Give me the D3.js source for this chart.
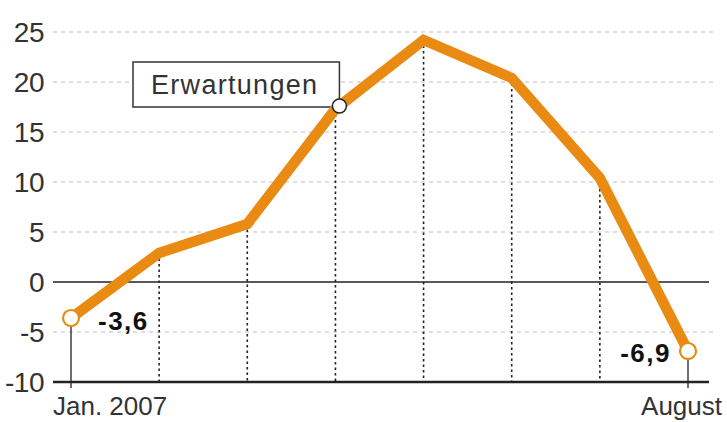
<!DOCTYPE html>
<html>
<head>
<meta charset="utf-8">
<script src="https://cdn.jsdelivr.net/npm/d3@7"></script>
<style>
  body { margin: 0; background: #fff; }
  svg { display: block; }
</style>
</head>
<body>
<div id="chart"></div>
<script>
// data
const months = ["Jan. 2007", "Feb", "Mär", "Apr", "Mai", "Jun", "Jul", "August"];
const values = [-3.6, 2.9, 5.8, 17.3, 24.2, 20.4, 10.4, -6.9];
const yTicks = [25, 20, 15, 10, 5, 0, -5, -10];
const shownLabels = ["Jan. 2007", "August"];
const noteIndex = 3;
const noteText = "Erwartungen";

const width = 727;
const height = 422;
const fontFamily = `"Liberation Sans", Arial, sans-serif`;
const orange = `#e98a12`;

const x = d3.scalePoint().domain(months).range([71, 688]);
const y = d3.scaleLinear().domain([-10, 25]).range([382, 32]);

const svg = d3.select(`#chart`).append(`svg`)
    .attr(`width`, width)
    .attr(`height`, height);

// grid lines
svg.append(`g`).selectAll(`line`)
    .data(yTicks.filter(d => d !== 0 && d !== -10))
    .join(`line`)
    .attr(`x1`, 53).attr(`x2`, 716)
    .attr(`y1`, d => y(d)).attr(`y2`, d => y(d))
    .attr(`stroke`, `#bdbdbd`)
    .attr(`stroke-width`, 1.2)
    .attr(`stroke-dasharray`, `4,4`);

// zero line
svg.append(`line`)
    .attr(`x1`, 53).attr(`x2`, 709)
    .attr(`y1`, y(0)).attr(`y2`, y(0))
    .attr(`stroke`, `#222`).attr(`stroke-width`, 1.3);

// y labels
svg.append(`g`).selectAll(`text`)
    .data(yTicks)
    .join(`text`)
    .attr(`x`, 44)
    .attr(`y`, d => y(d) + 10)
    .attr(`text-anchor`, `end`)
    .style(`font`, `28px ${fontFamily}`)
    .style(`letter-spacing`, `-0.5px`)
    .attr(`fill`, `#333`)
    .text(d => d);

// verticals
svg.append(`g`).selectAll(`line`)
    .data(values.map((v, i) => ({m: months[i], v, i})))
    .join(`line`)
    .attr(`x1`, d => x(d.m)).attr(`x2`, d => x(d.m))
    .attr(`y1`, d => y(d.v))
    .attr(`y2`, d => (d.i === 0 || d.i === values.length - 1) ? y(-10) + 6 : y(-10))
    .attr(`stroke`, `#222`)
    .attr(`stroke-width`, d => (d.i === 0 || d.i === values.length - 1) ? 1.3 : 1.6)
    .attr(`stroke-dasharray`, d => (d.i === 0 || d.i === values.length - 1) ? null : `2.5,3`);

// bottom axis
svg.append(`line`)
    .attr(`x1`, 53).attr(`x2`, 709)
    .attr(`y1`, y(-10)).attr(`y2`, y(-10))
    .attr(`stroke`, `#222`).attr(`stroke-width`, 2.5);

// x labels
svg.append(`text`)
    .attr(`x`, 53).attr(`y`, 415)
    .style(`font`, `26px ${fontFamily}`)
    .attr(`fill`, `#333`)
    .text(shownLabels[0]);
svg.append(`text`)
    .attr(`x`, 722).attr(`y`, 415)
    .attr(`text-anchor`, `end`)
    .style(`font`, `26px ${fontFamily}`)
    .attr(`fill`, `#333`)
    .text(shownLabels[1]);

// note box
const nx = x(months[noteIndex]);
const ny = y(values[noteIndex]);
svg.append(`rect`)
    .attr(`x`, 133).attr(`y`, ny - 47)
    .attr(`width`, nx - 133 + 4).attr(`height`, 45)
    .attr(`fill`, `#fff`)
    .attr(`stroke`, `#333`).attr(`stroke-width`, 1.5);
svg.append(`text`)
    .attr(`x`, 151).attr(`y`, ny - 15)
    .style(`font`, `27px ${fontFamily}`)
    .style(`letter-spacing`, `1.3px`)
    .attr(`fill`, `#333`)
    .text(noteText);

// line
const line = d3.line()
    .x((d, i) => x(months[i]))
    .y(d => y(d));
svg.append(`path`)
    .datum(values)
    .attr(`d`, line)
    .attr(`fill`, `none`)
    .attr(`stroke`, orange)
    .attr(`stroke-width`, 10.5)
    .attr(`stroke-linejoin`, `miter`);

// end circles
[0, values.length - 1].forEach(i => {
    svg.append(`circle`)
        .attr(`cx`, x(months[i])).attr(`cy`, y(values[i]))
        .attr(`r`, 8)
        .attr(`fill`, `#fff`)
        .attr(`stroke`, orange).attr(`stroke-width`, 2.2);
});
svg.append(`circle`)
    .attr(`cx`, nx + 4).attr(`cy`, ny - 3)
    .attr(`r`, 7)
    .attr(`fill`, `#fff`)
    .attr(`stroke`, `#222`).attr(`stroke-width`, 1.5);

// value labels
svg.append(`text`)
    .attr(`x`, 98).attr(`y`, y(values[0]) + 12)
    .style(`font`, `bold 26px ${fontFamily}`)
    .style(`letter-spacing`, `1.5px`)
    .attr(`fill`, `#111`)
    .text(String(values[0]).replace(`.`, `,`));
svg.append(`text`)
    .attr(`x`, 671).attr(`y`, y(values[values.length - 1]) + 11)
    .attr(`text-anchor`, `end`)
    .style(`font`, `bold 26px ${fontFamily}`)
    .style(`letter-spacing`, `1.5px`)
    .attr(`fill`, `#111`)
    .text(String(values[values.length - 1]).replace(`.`, `,`));
</script>
</body>
</html>
